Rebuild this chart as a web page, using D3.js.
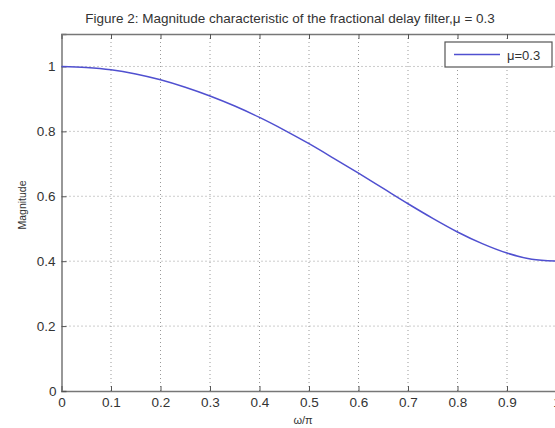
<!DOCTYPE html>
<html>
<head>
<meta charset="utf-8">
<script src="https://cdn.jsdelivr.net/npm/d3@7"></script>
<style>
  body { margin: 0; background: #fff; }
  text { font-family: "Liberation Sans", Arial, sans-serif; fill: #333; }
</style>
</head>
<body>
<div id="chart"></div>
<script>
// values (w/pi vs magnitude)
var freq = [0, 0.05, 0.1, 0.15, 0.2, 0.25, 0.3, 0.35, 0.4, 0.45, 0.5,
            0.55, 0.6, 0.65, 0.7, 0.75, 0.8, 0.85, 0.9, 0.95, 1.0];
var magnitude = [1.0, 0.997, 0.990, 0.977, 0.959, 0.936, 0.909, 0.878, 0.843, 0.804, 0.762,
                 0.717, 0.671, 0.624, 0.577, 0.532, 0.490, 0.454, 0.425, 0.406, 0.400];
var xTicks = [0, 0.1, 0.2, 0.3, 0.4, 0.5, 0.6, 0.7, 0.8, 0.9, 1];
var yTicks = [0, 0.2, 0.4, 0.6, 0.8, 1];
var legendLabel = "\u03bc=0.3";

var svgWidth = 555, svgHeight = 428;
var margin = {top: 34, left: 61.5, bottom: 37};
var plotW = 495, plotH = svgHeight - margin.top - margin.bottom;

var svg = d3.select("#chart").append("svg")
  .attr("width", svgWidth)
  .attr("height", svgHeight);

var g = svg.append("g")
  .attr("transform", `translate(${margin.left}, ${margin.top})`);

var x = d3.scaleLinear().domain([0, 1]).range([0, plotW]);
var y = d3.scaleLinear().domain([0, 1.1]).range([plotH, 0]);

// dotted grid
g.selectAll(".vgrid").data(xTicks.slice(1, -1)).enter().append("line")
  .attr("x1", d => x(d)).attr("x2", d => x(d))
  .attr("y1", 0).attr("y2", plotH)
  .attr("stroke", "#999").attr("stroke-width", 1)
  .attr("stroke-dasharray", "1,3");
g.selectAll(".hgrid").data(yTicks.slice(1)).enter().append("line")
  .attr("x1", 0).attr("x2", plotW)
  .attr("y1", d => y(d)).attr("y2", d => y(d))
  .attr("stroke", "#999").attr("stroke-width", 1)
  .attr("stroke-dasharray", "1,3");

// axes, ticks point inward like matlab
var bottomAxis = d3.axisBottom(x).tickValues(xTicks).tickSize(-5).tickPadding(6)
  .tickFormat(d => d3.format("")(d));
var topAxis = d3.axisTop(x).tickValues(xTicks).tickSize(-5).tickFormat("");
var leftAxis = d3.axisLeft(y).tickValues(yTicks).tickSize(-5).tickPadding(6)
  .tickFormat(d => d === 0 ? "" : d3.format("")(d));

function styleAxis(sel) {
  sel.select(".domain").attr("stroke", "#777").attr("stroke-width", 1.5);
  sel.selectAll(".tick line").attr("stroke", "#555");
  sel.selectAll(".tick text").attr("font-size", 13.5).attr("fill", "#444")
    .attr("font-family", "Liberation Sans, Arial, sans-serif");
}

g.append("g").attr("transform", `translate(0, ${plotH})`).call(bottomAxis).call(styleAxis);
g.append("g").call(topAxis).call(styleAxis);
g.append("g").call(leftAxis).call(styleAxis);

// matlab puts the y "0" a little below the corner
g.append("text")
  .attr("x", -5).attr("y", y(0) + 5)
  .attr("text-anchor", "end")
  .attr("font-size", 13.5).attr("fill", "#444")
  .text(d3.format("")(yTicks[0]));

// the curve
var line = d3.line()
  .x((d, i) => x(freq[i]))
  .y(d => y(d))
  .curve(d3.curveMonotoneX);

g.append("path")
  .datum(magnitude)
  .attr("fill", "none")
  .attr("stroke", "#5050d0")
  .attr("stroke-width", 1.5)
  .attr("d", line);

// legend
var legend = svg.append("g").attr("transform", "translate(445, 42)");
legend.append("rect")
  .attr("width", 107).attr("height", 25)
  .attr("fill", "#fff").attr("stroke", "#555").attr("stroke-width", 1.2);
legend.append("line")
  .attr("x1", 9).attr("x2", 55).attr("y1", 12.5).attr("y2", 12.5)
  .attr("stroke", "#5050d0").attr("stroke-width", 1.5);
legend.append("text")
  .attr("x", 62).attr("y", 17.5)
  .attr("font-size", 13).attr("fill", "#444").text(legendLabel);

// title and axis labels
svg.append("text")
  .attr("x", 290).attr("y", 23)
  .attr("text-anchor", "middle")
  .attr("font-size", 13.5)
  .text("Figure 2: Magnitude characteristic of the fractional delay filter,\u03bc = 0.3");

svg.append("text")
  .attr("x", 303).attr("y", 424)
  .attr("text-anchor", "middle")
  .attr("font-size", 11)
  .text("\u03c9/\u03c0");

svg.append("text")
  .attr("transform", "translate(26, 205) rotate(-90)")
  .attr("text-anchor", "middle")
  .attr("font-size", 10.5)
  .text("Magnitude");
</script>
</body>
</html>
